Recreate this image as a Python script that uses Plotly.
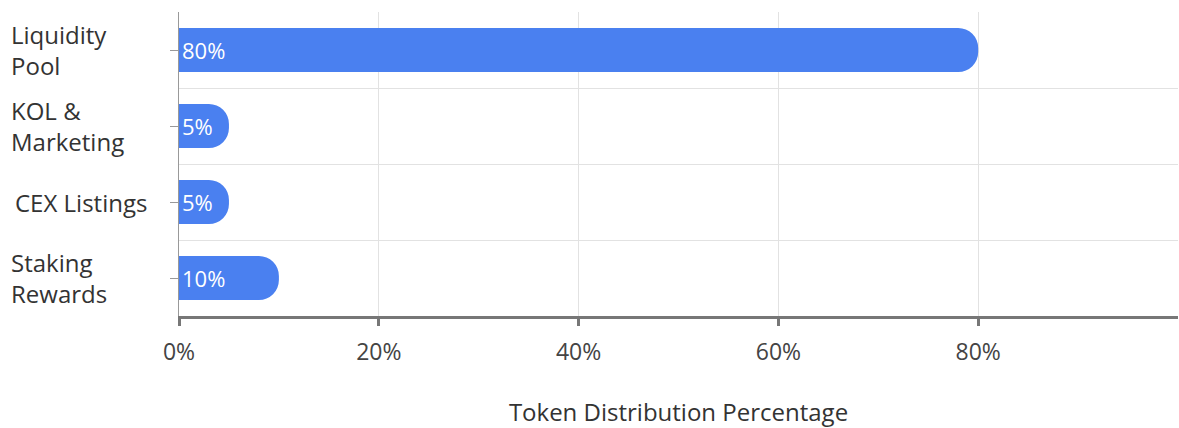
import plotly.graph_objects as go

categories = ["Liquidity Pool", "KOL & Marketing", "CEX Listings", "Staking Rewards"]
label_lines = ["Liquidity<br>Pool", "KOL &<br>Marketing", "CEX Listings", "Staking<br>Rewards"]
values = [80, 5, 5, 10]
x_ticks = [0, 20, 40, 60, 80]
x_tick_text = ["0%", "20%", "40%", "60%", "80%"]
axis_title = "Token Distribution Percentage"

FONT = "'Open Sans', 'Noto Sans', sans-serif"
BAR = "#4A80F0"

ypos = list(range(len(categories)))

fig = go.Figure()
fig.add_trace(go.Bar(
    x=values, y=ypos, orientation="h",
    marker=dict(color=BAR, line=dict(width=0)),
    width=0.58,
    text=[f"{v}%" for v in values],
    textposition="inside", insidetextanchor="start",
    textfont=dict(color="white", size=22, family=FONT),
    hoverinfo="skip",
))

for i, lab in enumerate(label_lines):
    fig.add_annotation(
        x=-0.170 if lab != "CEX Listings" else -0.166, xref="paper", xanchor="left",
        y=i, yref="y", text=lab, showarrow=False, align="left",
        font=dict(size=24, color="#333333", family=FONT),
    )

fig.update_layout(
    width=1179, height=428,
    margin=dict(l=179, r=1, t=12, b=112),
    paper_bgcolor="white", plot_bgcolor="white",
    showlegend=False,
    barcornerradius=20,
    font=dict(family=FONT, color="#444444"),
    xaxis=dict(
        range=[0, 100], tickvals=x_ticks, ticktext=x_tick_text,
        ticks="outside", ticklen=7, tickwidth=3, tickcolor="#777777",
        showline=True, linecolor="#777777", linewidth=3,
        showgrid=True, gridcolor="#e2e2e2", gridwidth=1,
        zeroline=False, ticklabelstandoff=6,
        tickfont=dict(size=23, color="#444444", family=FONT),
        title=dict(text=axis_title, font=dict(size=24, color="#333333", family=FONT), standoff=44),
        minor=dict(tickvals=[100], showgrid=True, gridcolor="#e2e2e2", ticks=""),
        fixedrange=True,
    ),
    yaxis=dict(
        range=[3.5, -0.5], tickvals=ypos, ticktext=["" for _ in ypos],
        ticks="outside", ticklen=8, tickwidth=1, tickcolor="#999999",
        showline=True, linecolor="#999999", linewidth=1,
        showgrid=False, zeroline=False,
        minor=dict(tickvals=[0.5, 1.5, 2.5], showgrid=True, gridcolor="#e2e2e2", ticks=""),
        fixedrange=True,
    ),
)

fig.write_html(
    "out.html",
    config={"displayModeBar": False},
    post_script="document.body.style.margin='0';document.body.style.overflow='hidden';",
)
